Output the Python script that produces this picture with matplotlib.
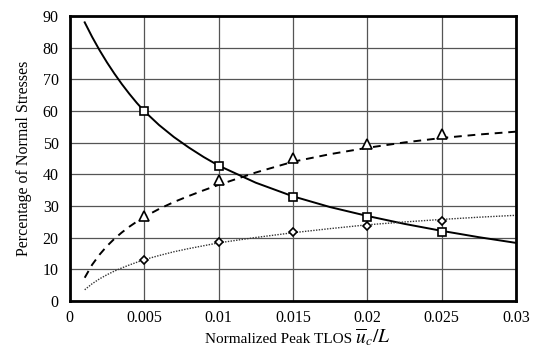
import numpy as np
import matplotlib
matplotlib.use("Agg")
from matplotlib import pyplot as plt
from matplotlib.ticker import FuncFormatter

# measured points (markers)
x_pts = [0.005, 0.01, 0.015, 0.02, 0.025]
sq_pts = [60.0, 42.6, 33.0, 26.6, 21.8]
tri_pts = [26.8, 38.4, 45.1, 49.6, 52.9]
dia_pts = [13.1, 18.8, 21.8, 23.7, 25.2]

# curves
x_curve = [0.001, 0.0015, 0.002, 0.0025, 0.003, 0.0035, 0.004, 0.0045, 0.005,
           0.006, 0.007, 0.008, 0.009, 0.01, 0.0125, 0.015, 0.0175, 0.02,
           0.0225, 0.025, 0.0275, 0.03]
solid_curve = [88.0, 83.4, 79.2, 75.35, 71.8, 68.5, 65.45, 62.6, 60.0,
               55.6, 51.8, 48.5, 45.5, 42.8, 37.4, 33.1, 29.7, 26.9,
               24.4, 22.2, 20.2, 18.4]
dashed_curve = [7.4, 11.5, 14.7, 17.4, 19.7, 21.7, 23.5, 25.1, 26.6,
                29.1, 31.3, 33.2, 35.0, 36.7, 40.6, 44.0, 46.4, 48.4,
                50.1, 51.5, 52.6, 53.5]
dotted_curve = [3.6, 5.5, 7.05, 8.35, 9.5, 10.5, 11.42, 12.27, 13.1,
                14.4, 15.6, 16.6, 17.5, 18.4, 20.1, 21.6, 22.9, 24.1,
                25.0, 25.8, 26.5, 27.1]

plt.rcParams['font.family'] = ['Liberation Serif', 'DejaVu Serif']
plt.rcParams['mathtext.fontset'] = 'stix'

fig = plt.figure(figsize=(5.33, 3.56), dpi=100)
ax = fig.add_axes([0.131, 0.154, 0.837, 0.801])

ax.plot(x_curve, solid_curve, color='black', lw=1.4, ls='-')
ax.plot(x_curve, dashed_curve, color='black', lw=1.4, ls=(0, (4, 3)))
ax.plot(x_curve, dotted_curve, color='#333333', lw=1.0, ls=(0, (1, 1)))

mk = dict(ls='none', mfc='white', mec='black', mew=1.2, zorder=5)
ax.plot(x_pts, sq_pts, marker='s', ms=6, **mk)
ax.plot(x_pts, tri_pts, marker='^', ms=6.5, **mk)
ax.plot(x_pts, dia_pts, marker='D', ms=4.5, **mk)

ax.set_xlim(0, 0.03)
ax.set_ylim(0, 90)
ax.set_xticks([0, 0.005, 0.01, 0.015, 0.02, 0.025, 0.03])
ax.set_yticks(range(0, 91, 10))
ax.xaxis.set_major_formatter(FuncFormatter(lambda v, p: '%g' % round(v, 4)))
ax.grid(True, color='#555555', lw=0.9)
ax.set_axisbelow(True)
ax.tick_params(length=0, labelsize=11.5)
ax.tick_params(axis='x', pad=6)
ax.tick_params(axis='y', pad=8)
for s in ax.spines.values():
    s.set_linewidth(2.0)
    s.set_color('black')

# x label: plain text plus a larger math part, sharing a baseline
ax.text(0.632, -0.146, 'Normalized Peak TLOS', transform=ax.transAxes,
        ha='right', va='baseline', fontsize=11)
ax.text(0.640, -0.146, r'$\overline{u}_c/L$', transform=ax.transAxes,
        ha='left', va='baseline', fontsize=14)
ax.set_ylabel('Percentage of Normal Stresses', fontsize=11.5, labelpad=8)

fig.savefig('out.png', dpi=100)
